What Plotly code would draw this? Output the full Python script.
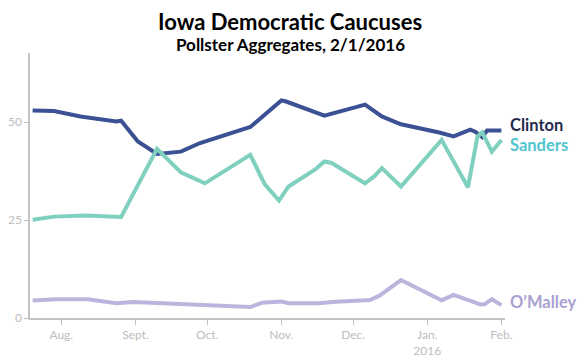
import plotly.graph_objects as go

clinton_dates = ["2015-07-20", "2015-07-29", "2015-08-09", "2015-08-24", "2015-08-26",
                 "2015-09-02", "2015-09-10", "2015-09-20", "2015-09-28", "2015-10-14",
                 "2015-10-19", "2015-11-01", "2015-11-03", "2015-11-19", "2015-12-06",
                 "2015-12-13", "2015-12-21", "2016-01-06", "2016-01-12", "2016-01-19",
                 "2016-01-21", "2016-01-24", "2016-01-26", "2016-02-01"]
clinton_values = [53.0, 52.9, 51.5, 50.2, 50.4,
                  45.1, 41.9, 42.5, 44.7, 47.9,
                  48.8, 55.6, 55.3, 51.7, 54.5,
                  51.5, 49.5, 47.4, 46.4, 48.1,
                  47.6, 46.2, 47.9, 47.9]

sanders_dates = ["2015-07-20", "2015-07-29", "2015-08-11", "2015-08-26", "2015-09-10",
                 "2015-09-20", "2015-09-30", "2015-10-19", "2015-10-25", "2015-10-31",
                 "2015-11-04", "2015-11-15", "2015-11-19", "2015-11-22", "2015-12-06",
                 "2015-12-10", "2015-12-13", "2015-12-21", "2016-01-07", "2016-01-13",
                 "2016-01-18", "2016-01-22", "2016-01-24", "2016-01-28", "2016-02-01"]
sanders_values = [25.1, 25.9, 26.2, 25.8, 43.2,
                  37.2, 34.4, 41.7, 34.2, 30.0,
                  33.6, 37.9, 40.0, 39.6, 34.4,
                  36.3, 38.3, 33.6, 45.5, 38.7,
                  33.4, 46.4, 47.4, 42.5, 45.5]

omalley_dates = ["2015-07-20", "2015-07-30", "2015-08-12", "2015-08-24", "2015-08-31",
                 "2015-09-08", "2015-09-19", "2015-09-28", "2015-10-12", "2015-10-19",
                 "2015-10-24", "2015-11-01", "2015-11-04", "2015-11-17", "2015-11-22",
                 "2015-12-05", "2015-12-08", "2015-12-12", "2015-12-21", "2016-01-07",
                 "2016-01-12", "2016-01-20", "2016-01-23", "2016-01-25", "2016-01-28",
                 "2016-02-01"]
omalley_values = [4.5, 4.8, 4.8, 3.8, 4.1,
                  3.9, 3.4, 3.2, 3.0, 2.8,
                  3.9, 4.2, 3.8, 3.8, 4.1,
                  4.4, 4.6, 5.7, 9.7, 4.5,
                  5.9, 4.2, 3.5, 3.5, 4.8,
                  3.3]

month_ticks = ["2015-08-01", "2015-09-01", "2015-10-01", "2015-11-01",
               "2015-12-01", "2016-01-01", "2016-02-01"]
month_labels = ["Aug.", "Sept.", "Oct.", "Nov.", "Dec.", "Jan.<br>2016", "Feb."]
y_ticks = [0, 25, 50]

title_text = "Iowa Democratic Caucuses"
subtitle_text = "Pollster Aggregates, 2/1/2016"

series = [
    ("Clinton", clinton_dates, clinton_values, "#3c5193", "#1f2b4d", 49.3),
    ("Sanders", sanders_dates, sanders_values, "#80d0bf", "#4ec4cf", 44.2),
    ("O\u2019Malley", omalley_dates, omalley_values, "#bab5dd", "#a8a1d1", 4.2),
]

fig = go.Figure()
for name, xs, ys, color, lcolor, ly in series:
    fig.add_trace(go.Scatter(x=xs, y=ys, mode="lines", name=name,
                             line=dict(color=color, width=4), hoverinfo="skip"))
    fig.add_annotation(x=1, xref="paper", y=ly, yref="y", text="<b>%s</b>" % name,
                       showarrow=False, xanchor="left", yanchor="middle", xshift=3,
                       font=dict(family="Lato", size=16.5, color=lcolor))

fig.add_annotation(x=0.548, xref="paper", y=1, yref="paper", yanchor="middle",
                   yshift=31.5, text="<b>%s</b>" % title_text, showarrow=False,
                   font=dict(family="Lato", size=22, color="#000000"))
fig.add_annotation(x=0.548, xref="paper", y=1, yref="paper", yanchor="middle",
                   yshift=8.5, text="<b>%s</b>" % subtitle_text, showarrow=False,
                   font=dict(family="Lato", size=17, color="#000000"))

# page body has an 8px margin, so the figure is drawn 8px in from the window edge
fig.update_layout(
    width=579, height=349,
    margin=dict(l=22, r=81.6, t=45, b=39.3),
    paper_bgcolor="white", plot_bgcolor="white",
    showlegend=False,
    font=dict(family="Lato", color="#bdbdbd", size=12),
)

fig.update_xaxes(type="date", range=["2015-07-18 21:36", "2016-02-02 12:00"],
                 tickvals=month_ticks, ticktext=month_labels, automargin=False,
                 showline=True, linecolor="#c4c4c4", linewidth=1.5,
                 ticks="outside", ticklen=5, tickcolor="#c4c4c4",
                 showgrid=False, zeroline=False,
                 tickfont=dict(family="Lato", size=12, color="#bdbdbd"))
fig.update_yaxes(range=[0, 67.7], tickvals=y_ticks, automargin=False,
                 showline=True, linecolor="#c4c4c4", linewidth=1.5,
                 ticks="outside", ticklen=4, tickcolor="#b4c0d2",
                 showgrid=False, zeroline=False,
                 tickfont=dict(family="Lato", size=12, color="#bdbdbd"))

fig.write_html("out.html")
